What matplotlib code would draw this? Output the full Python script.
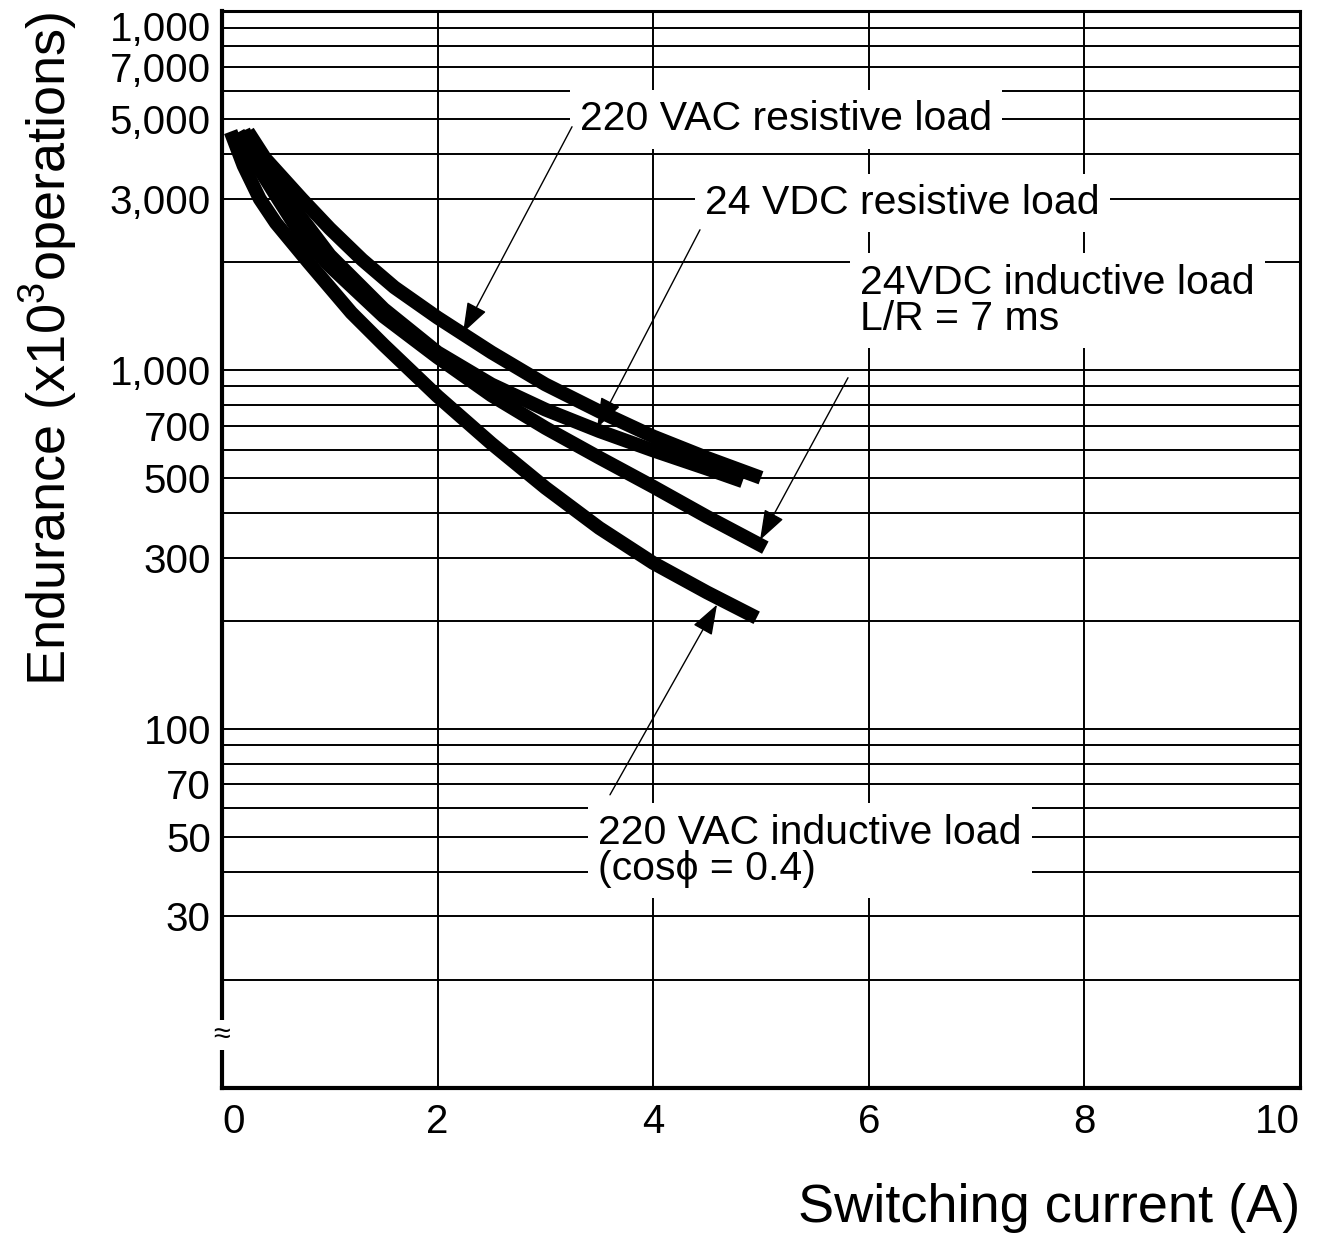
import numpy as np
import matplotlib
matplotlib.use("Agg")
import matplotlib.pyplot as plt
from matplotlib.ticker import FixedLocator, LogLocator, NullFormatter

plt.rcParams['font.family'] = ['Liberation Sans', 'DejaVu Sans']
plt.rcParams['mathtext.fontset'] = 'custom'
plt.rcParams['mathtext.rm'] = 'Liberation Sans'

# --- DATA ---
x_vac_res = [0.24, 0.4, 0.74, 1.0, 1.3, 1.6, 2.0, 2.5, 3.0, 3.5, 4.0, 4.5, 5.0]
y_vac_res = [4620, 3890, 3000, 2480, 2030, 1700, 1400, 1120, 912, 767, 653, 569, 501]

x_dc_res = [0.2, 0.3, 0.6, 0.8, 1.0, 1.5, 2.0, 2.5, 3.0, 3.5, 4.0, 4.5, 4.83]
y_dc_res = [4650, 4000, 3000, 2510, 2090, 1480, 1120, 912, 776, 676, 597, 531, 490]

x_dc_ind = [0.15, 0.26, 0.52, 0.75, 1.0, 1.5, 2.0, 2.5, 3.0, 3.5, 4.0, 4.5, 5.04]
y_dc_ind = [4600, 4000, 3000, 2340, 1950, 1410, 1085, 850, 690, 570, 473, 390, 320]

x_vac_ind = [0.08, 0.2, 0.35, 0.5, 0.8, 1.0, 1.2, 1.5, 2.0, 2.5, 3.0, 3.5, 4.0, 4.5, 4.96]
y_vac_ind = [4620, 3715, 3000, 2570, 2000, 1700, 1445, 1175, 845, 624, 470, 363, 290, 240, 204]

y_ticks = [30, 50, 70, 100, 300, 500, 700, 1000, 3000, 5000, 7000, 10000]
y_tick_labels = ['30', '50', '70', '100', '300', '500', '700', '1,000',
                 '3,000', '5,000', '7,000', '1,000']
x_ticks = [0, 2, 4, 6, 8, 10]
x_tick_labels = ['0', '2', '4', '6', '8', '10']

TICK_FS = 29
NOTE_FS = 29.5
LABEL_FS = 39

fig = plt.figure(figsize=(13.19, 12.37), dpi=100)
ax = fig.add_axes([0.1683, 0.1207, 0.8173, 0.8702])

ax.set_yscale('log')
ax.set_xlim(0, 10)
ax.set_ylim(10, 10000)

# grid: every 1..9 per decade, plus 2 A steps
ax.yaxis.set_minor_locator(LogLocator(base=10, subs=np.arange(2, 10)))
ax.yaxis.set_minor_formatter(NullFormatter())
ax.yaxis.set_major_locator(FixedLocator(y_ticks))
ax.set_yticklabels(y_tick_labels)
ax.set_xticks(x_ticks)
ax.set_xticklabels(x_tick_labels)
ax.grid(True, which='both', axis='y', color='black', lw=1.4, zorder=1)
ax.grid(True, which='major', axis='x', color='black', lw=1.4, zorder=1)
ax.set_axisbelow(True)

ax.tick_params(axis='both', which='both', length=0, labelsize=TICK_FS)
ax.tick_params(axis='y', pad=8)
ax.tick_params(axis='x', pad=11)

# top label is pushed down inside the frame, end labels kept inside on x
ax.get_yticklabels()[-1].set_verticalalignment('top')
ax.get_xticklabels()[0].set_horizontalalignment('left')
ax.get_xticklabels()[-1].set_horizontalalignment('right')

for side in ['left', 'bottom']:
    ax.spines[side].set_linewidth(3)
for side in ['top', 'right']:
    ax.spines[side].set_linewidth(2.2)

# curves
for xs, ys in [(x_vac_res, y_vac_res), (x_dc_res, y_dc_res),
               (x_dc_ind, y_dc_ind), (x_vac_ind, y_vac_ind)]:
    ax.plot(xs, ys, color='black', lw=10, solid_capstyle='butt',
            solid_joinstyle='round', zorder=5)

# labels with white boxes that break the grid
box = dict(boxstyle='square,pad=0.25', fc='white', ec='none')
ax.text(3.32, 5000, '220 VAC resistive load', fontsize=NOTE_FS,
        ha='left', va='center', bbox=box, zorder=3)
ax.text(4.48, 2925, '24 VDC resistive load', fontsize=NOTE_FS,
        ha='left', va='center', bbox=box, zorder=3)
ax.text(5.92, 1560, '24VDC inductive load\nL/R = 7 ms', fontsize=NOTE_FS,
        ha='left', va='center', linespacing=0.95, bbox=box, zorder=3)
ax.text(3.49, 45.7, '220 VAC inductive load\n(cos\u03d5 = 0.4)', fontsize=NOTE_FS,
        ha='left', va='center', linespacing=0.95, bbox=box, zorder=3)

arrow = dict(arrowstyle='-|>,head_length=0.9,head_width=0.32', color='black',
             lw=1, mutation_scale=21, shrinkA=0, shrinkB=0)
ax.annotate('', xy=(2.236, 1271), xytext=(3.247, 4766), arrowprops=arrow, zorder=6)
ax.annotate('', xy=(3.479, 690), xytext=(4.434, 2460), arrowprops=arrow, zorder=6)
ax.annotate('', xy=(4.991, 336), xytext=(5.807, 952), arrowprops=arrow, zorder=6)
ax.annotate('', xy=(4.592, 222), xytext=(3.599, 65.5), arrowprops=arrow, zorder=6)

# axis break mark on the left spine
ax.text(0, 14, '\u2248', fontsize=22, ha='center', va='center', clip_on=False,
        bbox=dict(boxstyle='square,pad=0.0', fc='white', ec='none'), zorder=10)

ax.set_xlabel('Switching current (A)', fontsize=LABEL_FS, loc='right', labelpad=30)
ax.set_ylabel(r'Endurance (x10$^{\mathregular{3}}$operations)', fontsize=LABEL_FS,
              loc='top', labelpad=22)

fig.savefig('out.png', dpi=100, facecolor='white')
